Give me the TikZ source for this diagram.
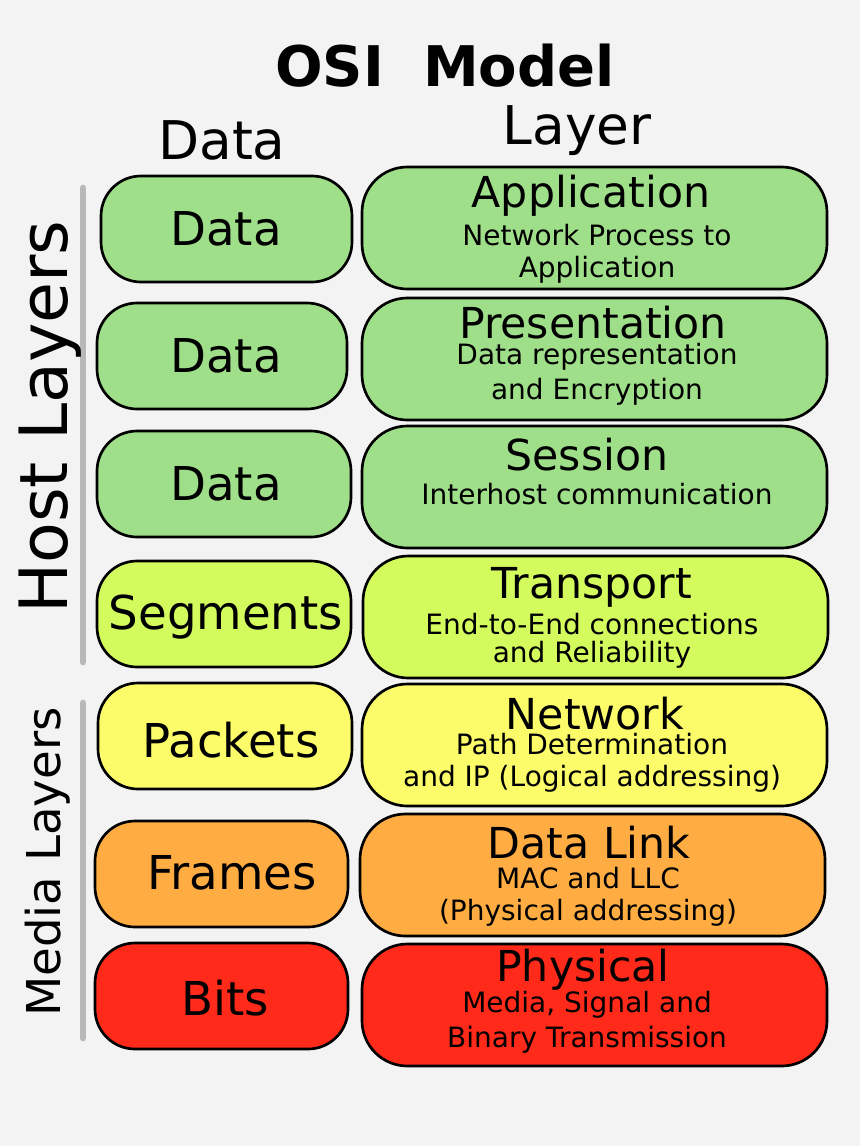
\documentclass[tikz,border=0pt]{standalone}
\usepackage{fontspec}
\setmainfont{DejaVu Sans}
\definecolor{bg}{HTML}{F3F3F3}
\definecolor{cgreen}{HTML}{A0DF8A}
\definecolor{clime}{HTML}{D4FB5E}
\definecolor{cyellow}{HTML}{FCFC6A}
\definecolor{corange}{HTML}{FFAD42}
\definecolor{cred}{HTML}{FF2A1A}
\definecolor{bar}{HTML}{B8B8B8}
\begin{document}
\begin{tikzpicture}[x=0.75pt,y=-0.75pt,
  box/.style={draw=black,line width=2pt,rounded corners=30pt,inner sep=0pt},
  lbl/.style={inner sep=0pt,anchor=center},
  big/.style={lbl,font=\fontsize{35}{40}\selectfont},
  ttl/.style={lbl,font=\fontsize{32}{36}\selectfont},
  sub/.style={lbl,font=\fontsize{21}{24}\selectfont},
  sidebar/.style={draw=bar,line width=5pt,line cap=round}]
\fill[bg] (0,0) rectangle (860,1146);
\useasboundingbox (0,0) rectangle (860,1146);
\node[lbl,font=\bfseries\fontsize{42}{48}\selectfont] (title) at (445,66) {OSI\ \ Model};
\node[lbl,font=\fontsize{40}{46}\selectfont] (hdata) at (222,140) {Data};
\node[lbl,font=\fontsize{40}{46}\selectfont] (hlayer) at (577,131) {Layer};
\coordinate (h1) at (83,188); \coordinate (h2) at (83,662);
\coordinate (m1) at (83,703); \coordinate (m2) at (83,1038);
\draw[sidebar] (h1) -- (h2);
\draw[sidebar] (m1) -- (m2);
\node[lbl,rotate=90,font=\fontsize{50}{56}\selectfont] (host) at (50,417) {Host Layers};
\node[lbl,rotate=90,font=\fontsize{35}{40}\selectfont] (media) at (48,862) {Media Layers};
\foreach \n/\xa/\ya/\xb/\yb/\c in {d1/101/176/352/282/cgreen, d2/97/303/347/409/cgreen, d3/97/431/351/537/cgreen, d4/97/561/351/667/clime, d5/98/683/352/789/cyellow, d6/95/821/348/927/corange, d7/95/943/348/1049/cred}
  \draw[box,fill=\c] (\xa,\ya) rectangle (\xb,\yb);
\foreach \n/\xa/\ya/\xb/\yb/\c in {l1/362/167/827/289/cgreen, l2/362/298/827/420/cgreen, l3/362/426/827/548/cgreen, l4/363/556/828/678/clime, l5/362/684/827/806/cyellow, l6/360/814/825/936/corange, l7/362/944/827/1066/cred}
  \draw[box,fill=\c,rounded corners=34pt] (\xa,\ya) rectangle (\xb,\yb);
\node[big] (t1) at (226,229) {Data};
\node[big] (t2) at (226,356) {Data};
\node[big] (t3) at (226,484) {Data};
\node[big] (t4) at (226,617) {Segments};
\node[big] (t5) at (231,740) {Packets};
\node[big] (t6) at (232,873) {Frames};
\node[big] (t7) at (225,998) {Bits};
\node[ttl] (a1) at (591,196) {Application};
\node[sub] (a2) at (597,235) {Network Process to};
\node[sub] (a3) at (597,270) {Application};
\node[ttl] (p1) at (593,323) {Presentation};
\node[sub] (p2) at (597,357) {Data representation};
\node[sub] (p3) at (597,392) {and Encryption};
\node[ttl] (s1) at (587,455) {Session};
\node[sub] (s2) at (597,494) {Interhost communication};
\node[ttl] (tr1) at (592,587) {Transport};
\node[sub] (tr2) at (592,624) {End-to-End connections};
\node[sub] (tr3) at (592,655) {and Reliability};
\node[ttl] (n1) at (595,714) {Network};
\node[sub] (n2) at (592,744) {Path Determination};
\node[sub] (n3) at (592,779) {and IP (Logical addressing)};
\node[ttl] (dl1) at (589,843) {Data Link};
\node[sub] (dl2) at (588,878) {MAC and LLC};
\node[sub] (dl3) at (588,913) {(Physical addressing)};
\node[ttl] (ph1) at (583,970) {Physical};
\node[sub] (ph2) at (587,1005) {Media, Signal and};
\node[sub] (ph3) at (587,1040) {Binary Transmission};
\end{tikzpicture}
\end{document}
